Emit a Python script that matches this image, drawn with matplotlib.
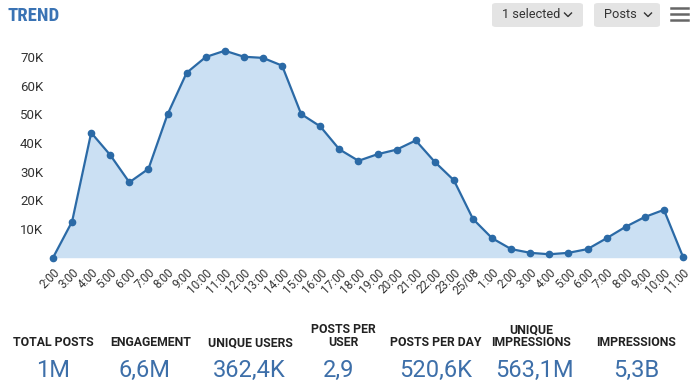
import matplotlib
matplotlib.use("Agg")
import matplotlib.pyplot as plt
from matplotlib import font_manager
from matplotlib.patches import FancyBboxPatch
from matplotlib.lines import Line2D
from matplotlib.ticker import FuncFormatter

# hourly posts, 24/08 2:00 -> 25/08 11:00
hours = ["2:00", "3:00", "4:00", "5:00", "6:00", "7:00", "8:00", "9:00",
         "10:00", "11:00", "12:00", "13:00", "14:00", "15:00", "16:00",
         "17:00", "18:00", "19:00", "20:00", "21:00", "22:00", "23:00",
         "25/08", "1:00", "2:00", "3:00", "4:00", "5:00", "6:00", "7:00",
         "8:00", "9:00", "10:00", "11:00"]
posts = [0, 12600, 43600, 35800, 26300, 31000, 50000, 64500, 70000, 72200,
         70100, 69700, 67000, 50100, 45800, 37800, 33800, 36100, 37700,
         40900, 33400, 27000, 13500, 6800, 3000, 1700, 1200, 1700, 3000,
         6800, 10800, 14200, 16700, 300]

stat_names = ["TOTAL POSTS", "ENGAGEMENT", "UNIQUE USERS", "POSTS PER\nUSER",
              "POSTS PER DAY", "UNIQUE\nIMPRESSIONS", "IMPRESSIONS"]
stat_values = ["1M", "6,6M", "362,4K", "2,9", "520,6K", "563,1M", "5,3B"]

W, H = 700, 384
BLUE = "#2b6aa6"
FILL = "#cbe0f3"
TXT = "#333333"

plt.rcParams["font.family"] = ["Roboto", "DejaVu Sans"]


def fx(px):
    return px / W


def fy(py):
    return 1 - py / H


def pick_font(names, fallback):
    for n in names:
        try:
            font_manager.findfont(font_manager.FontProperties(family=n),
                                  fallback_to_default=False)
            return n
        except ValueError:
            pass
    return fallback


title_font = pick_font(["Roboto Condensed", "Liberation Sans Narrow",
                        "Open Sans Condensed", "Noto Sans Condensed"], None)

fig = plt.figure(figsize=(W / 100, H / 100), dpi=100)
ax = fig.add_axes([fx(53), fy(257.7), fx(683) - fx(53), fy(42.7) - fy(257.7)])

x = list(range(len(posts)))
ax.fill_between(x, posts, 0, color=FILL, lw=0)
ax.plot(x, posts, color=BLUE, lw=1.6, marker="o", ms=4.5, clip_on=False)

ax.set_xlim(0, len(posts) - 1)
ax.set_ylim(0, 75000)
ax.set_yticks([10000, 20000, 30000, 40000, 50000, 60000, 70000])
ax.yaxis.set_major_formatter(FuncFormatter(lambda v, p: "{:.0f}K".format(v / 1000)))
ax.set_xticks(x)
ax.set_xticklabels(hours, rotation=45, ha="right", va="top",
                   rotation_mode="anchor")
ax.tick_params(axis="both", length=0, colors=TXT)
ax.tick_params(axis="y", labelsize=9.5, pad=7)
ax.tick_params(axis="x", labelsize=8.5, pad=6)
for s in ax.spines.values():
    s.set_visible(False)

# header
if title_font:
    fig.text(fx(7), fy(21), "TREND", color="#3a73b4", fontsize=13.5,
             fontweight="bold", family=[title_font, "DejaVu Sans"],
             va="baseline")
else:
    fig.text(fx(7), fy(21), "TREND", color="#3a73b4", fontsize=12,
             fontweight="bold", fontstretch="condensed", va="baseline")

# buttons
buttons = [(492, 583, 568, "1 selected"), (594, 660, 648, "Posts")]
for x0, x1, cx, label in buttons:
    box = FancyBboxPatch((fx(x0), fy(27)), fx(x1) - fx(x0), fy(3) - fy(27),
                         boxstyle="round,pad=0,rounding_size=0.006",
                         transform=fig.transFigure, fc="#e4e4e4", ec="none")
    fig.patches.append(box)
    fig.text(fx(x0 + 10), fy(15), label, color=TXT, fontsize=9.2,
             va="center", ha="left")
    fig.lines.append(Line2D([fx(cx - 3.5), fx(cx), fx(cx + 3.5)],
                            [fy(13), fy(16.5), fy(13)], color=TXT, lw=1,
                            transform=fig.transFigure))

for ly in [8, 14, 20]:
    fig.lines.append(Line2D([fx(671), fx(688)], [fy(ly), fy(ly)],
                            color="#666666", lw=1.8,
                            transform=fig.transFigure))

# stats row
centers = [53, 151, 250, 343, 436, 531, 636]
val_centers = [53, 144, 249, 339, 436, 534, 636]
for cx, vx, name, val in zip(centers, val_centers, stat_names, stat_values):
    fig.text(fx(cx), fy(349), name, ha="center", va="bottom",
             multialignment="center", fontsize=8.8, fontweight="bold",
             color="#222222", linespacing=1.0)
    fig.text(fx(vx), fy(377), val, ha="center", va="baseline",
             fontsize=17, color="#3d6fa9")

fig.savefig("out.png", dpi=100)
